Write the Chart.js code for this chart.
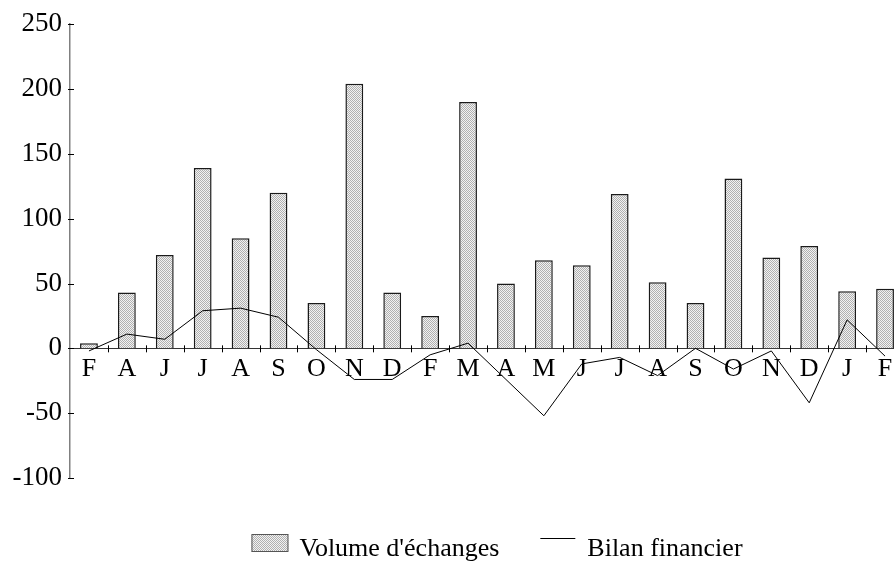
<!DOCTYPE html>
<html><head><meta charset="utf-8">
<script src="https://cdn.jsdelivr.net/npm/chart.js@4/dist/chart.umd.min.js"></script>
<style>html,body{margin:0;padding:0;overflow:hidden;background:#fff}</style>
</head><body>
<canvas id="c" width="994" height="562" style="width:994px;height:562px;display:block"></canvas>
<script>
const categories = ['F','A','J','J','A','S','O','N','D','F','M','A','M','J','J','A','S','O','N','D','J','F'];
const volumeEchanges = [4,43,72,139,85,120,35,204,43,25,190,50,68,64,119,51,35,131,70,79,44,46];
const bilanFinancier = [-2,11,7,29,31,24,-1,-24,-24,-5,4,-24,-52,-12,-7,-21,0,-16,-2,-42,22,-6];
const seriesLabels = ["Volume d'échanges", 'Bilan financier'];
const yTicks = [-100,-50,0,50,100,150,200,250];

const canvas = document.getElementById('c');
const ctx = canvas.getContext('2d');

// dotted grey fill for bars
const pc = document.createElement('canvas'); pc.width = 2; pc.height = 2;
const pctx = pc.getContext('2d');
pctx.fillStyle = '#f2f2f2'; pctx.fillRect(0,0,2,2);
pctx.fillStyle = '#b0b0b0'; pctx.fillRect(0,0,1,1); pctx.fillRect(1,1,1,1);
const barPattern = ctx.createPattern(pc, 'repeat');

const crossTicks = {
  id: 'crossTicks',
  afterDraw(chart) {
    const c = chart.ctx, x = chart.scales.x, y = chart.scales.y;
    const left = chart.chartArea.left;
    const y0 = y.getPixelForValue(0);
    c.save();
    c.strokeStyle = '#000'; c.lineWidth = 1;
    c.beginPath();
    yTicks.forEach(v => {
      const py = Math.round(y.getPixelForValue(v)) + 0.5;
      c.moveTo(left - 2, py); c.lineTo(left + 4, py);
    });
    for (let i = 1; i <= categories.length; i++) {
      const px = Math.round(x.getPixelForValue(i - 0.5)) + 0.5;
      c.moveTo(px, y0 - 3); c.lineTo(px, y0 + 4);
    }
    c.stroke();
    c.restore();
  }
};

const customLegend = {
  id: 'customLegend',
  afterDraw(chart) {
    const c = chart.ctx;
    const H = chart.height;
    c.save();
    c.font = '26px "Liberation Serif"';
    c.fillStyle = '#000';
    c.textBaseline = 'alphabetic';
    const t1 = chart.data.datasets[1].label, t2 = chart.data.datasets[0].label;
    const w1 = c.measureText(t1).width, w2 = c.measureText(t2).width;
    const boxW = 37, boxH = 18, lineW = 35;
    const total = boxW + 11 + w1 + 41 + lineW + 12 + w2;
    let x = chart.width / 2 - total / 2;
    const boxTop = H - 28;
    c.fillStyle = barPattern;
    c.fillRect(x, boxTop, boxW, boxH);
    c.strokeStyle = '#555'; c.lineWidth = 1;
    c.strokeRect(x + 0.5, boxTop + 0.5, boxW - 1, boxH - 1);
    c.fillStyle = '#000';
    x += boxW + 11;
    c.fillText(t1, x, H - 6);
    x += w1 + 41;
    c.beginPath(); c.strokeStyle = '#000';
    c.moveTo(x, H - 23.5); c.lineTo(x + lineW, H - 23.5); c.stroke();
    x += lineW + 12;
    c.fillText(t2, x, H - 6);
    c.restore();
  }
};

new Chart(ctx, {
  type: 'bar',
  data: {
    labels: categories,
    datasets: [
      { type: 'line', label: seriesLabels[1], data: bilanFinancier, borderColor: '#000', borderWidth: 1,
        pointRadius: 0, tension: 0, fill: false, order: 0 },
      { type: 'bar', label: seriesLabels[0], data: volumeEchanges, backgroundColor: barPattern,
        borderColor: '#1a1a1a', borderWidth: 1.5, categoryPercentage: 1, barPercentage: 0.47, order: 1 }
    ]
  },
  options: {
    responsive: false, animation: false, devicePixelRatio: 1,
    layout: { padding: { left: 12, top: 24, right: 90, bottom: 84 } },
    plugins: { legend: { display: false }, tooltip: { enabled: false } },
    scales: {
      x: {
        position: { y: 0 }, offset: true,
        grid: { display: false, offset: true, drawTicks: false },
        border: { display: true, color: '#333', width: 1 },
        ticks: { color: '#000', font: { family: 'Liberation Serif', size: 26 }, padding: 5, maxRotation: 0, autoSkip: false }
      },
      y: {
        min: -100, max: 250,
        afterBuildTicks: s => { s.ticks = yTicks.map(v => ({ value: v })); },
        afterFit: s => { s.width = 58; },
        grid: { display: false, drawTicks: false },
        border: { display: true, color: '#808080', width: 1.5 },
        ticks: { color: '#000', font: { family: 'Liberation Serif', size: 27 }, padding: 8 }
      }
    }
  },
  plugins: [crossTicks, customLegend]
});
</script>
</body></html>
